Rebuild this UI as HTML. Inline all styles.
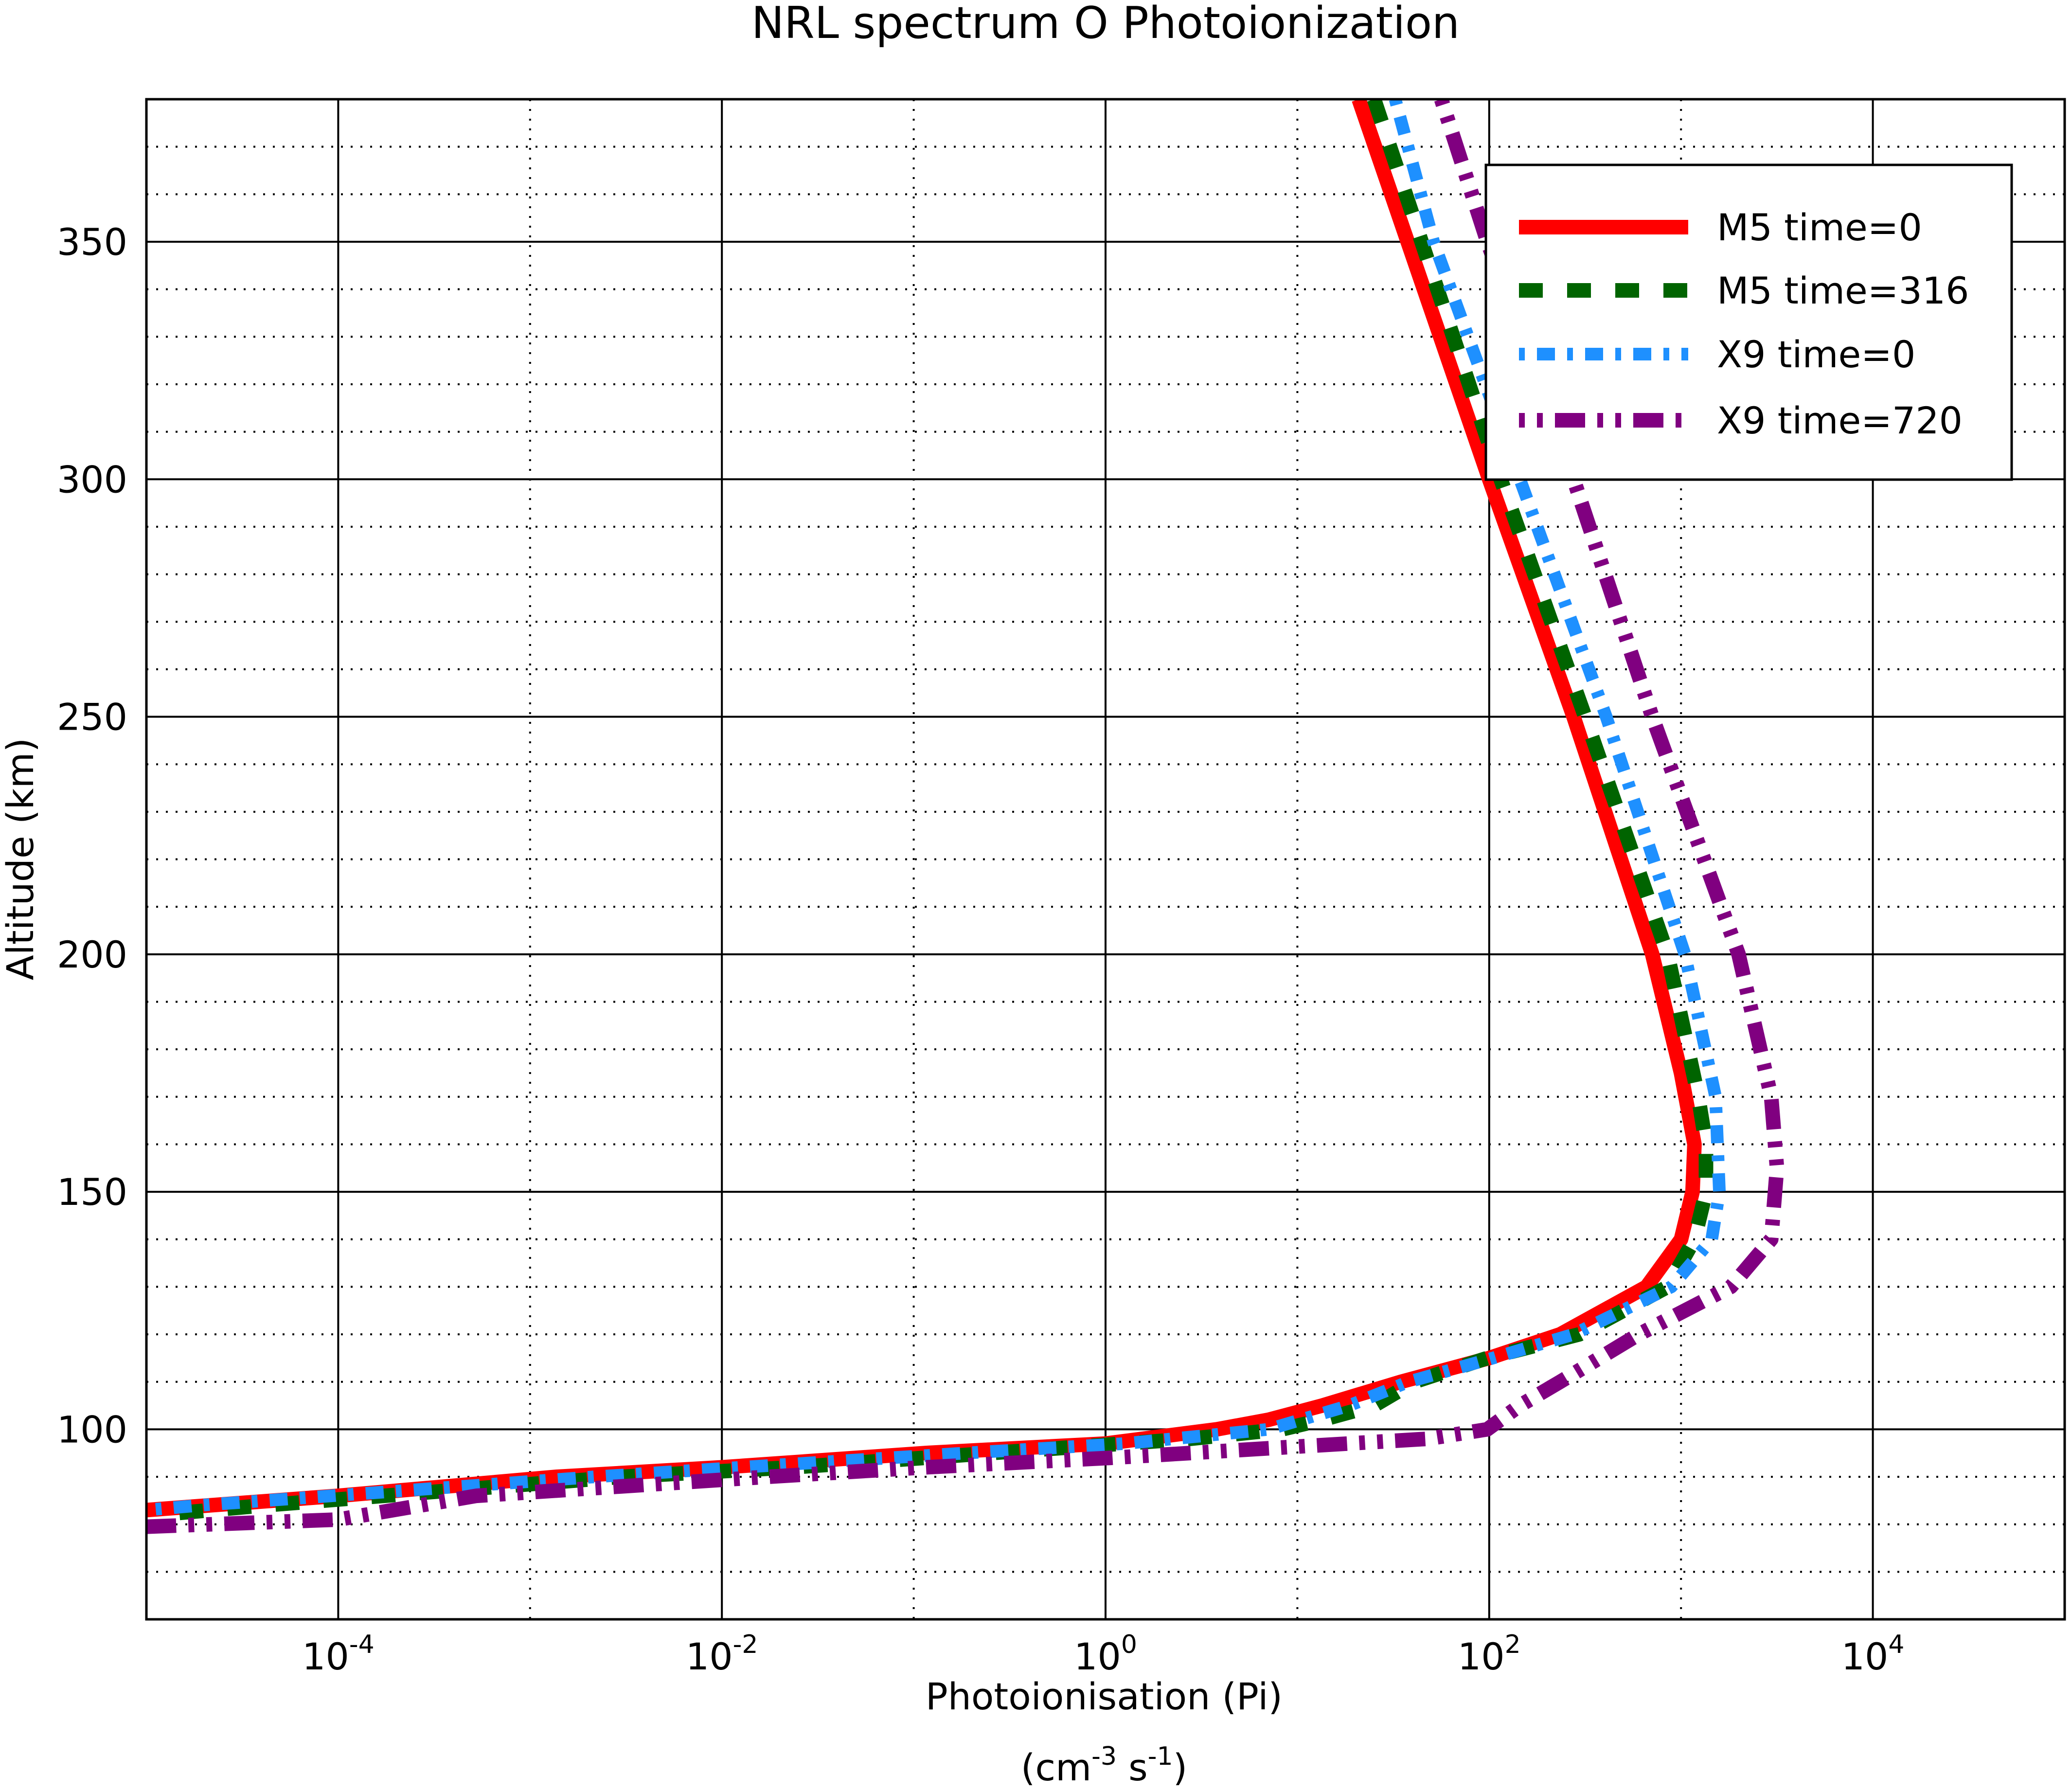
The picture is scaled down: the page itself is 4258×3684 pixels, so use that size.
<!DOCTYPE html>
<html><head><meta charset="utf-8"><style>
html,body{margin:0;padding:0;background:#fff}
svg{display:block}
text{font-family:"DejaVu Sans","Liberation Sans",sans-serif;fill:#000}
</style></head><body>
<svg id="chart" xmlns="http://www.w3.org/2000/svg" width="4258" height="3684" viewBox="0 0 4258 3684">
<text x="2273" y="78" font-size="90" text-anchor="middle">NRL spectrum O Photoionization</text>
<g id="grid"></g>
<g id="series"></g>
<rect x="301" y="204" width="3944" height="3125" fill="none" stroke="#000" stroke-width="5"/>
<g id="ticks"></g>
<text transform="translate(68,1766) rotate(-90)" font-size="76" text-anchor="middle">Altitude (km)</text>
<text x="2270" y="3514" font-size="76" text-anchor="middle">Photoionisation (Pi)</text>
<text x="2270" y="3660" font-size="76" text-anchor="middle">(cm<tspan font-size="52" dy="-32">-3</tspan><tspan dy="32"> s</tspan><tspan font-size="52" dy="-32">-1</tspan><tspan dy="32">)</tspan></text>
<g id="legend"></g>
</svg>
<script>
const xTickExps=[-4,-2,0,2,4];
const yTicks=[100,150,200,250,300,350];
const legendLabels=["M5 time=0","M5 time=316","X9 time=0","X9 time=720"];
const m5t0Alt=[380,300,250,200,175,160,150,140,130,120,115,110,105,102,100,97,95,92,90,86,83];
const m5t0Log=[1.32,2.0,2.44,2.85,3.0,3.07,3.06,3.0,2.82,2.37,2.0,1.54,1.13,0.85,0.58,0,-0.94,-2.0,-2.86,-4,-5];
const m5t316Alt=[380,300,250,200,170,160,150,140,130,120,115,110,105,102,100,98,96,94,92,90,88,86,84,82];
const m5t316Log=[1.40,2.06,2.5,2.93,3.09,3.13,3.13,3.07,2.93,2.47,1.99,1.61,1.40,1.13,0.92,0.44,-0.25,-0.94,-1.63,-2.52,-3.14,-3.76,-4.38,-4.94];
const x9t0Alt=[380,350,300,250,200,170,150,140,130,120,115,110,105,100,97,95,92,90,87,84,83];
const x9t0Log=[1.51,1.71,2.16,2.61,3.02,3.18,3.2,3.16,2.95,2.44,2.02,1.58,1.27,0.85,0.1,-0.73,-1.9,-2.66,-3.69,-4.72,-5];
const x9t720Alt=[380,350,300,250,200,170,155,140,130,120,110,105,100,98,96,94,92,90,88,86,81,79.5];
const x9t720Log=[1.75,1.99,2.44,2.85,3.3,3.47,3.5,3.47,3.26,2.78,2.37,2.16,1.99,1.68,0.85,0.03,-0.94,-1.76,-2.52,-3.28,-4,-5];

const L=301,R=4245,T=204,B=3329,XMIN=-5,XMAX=5,YMIN=60,YMAX=380;
const xs=v=>L+(v-XMIN)/(XMAX-XMIN)*(R-L);
const ys=v=>B-(v-YMIN)/(YMAX-YMIN)*(B-T);
const NS="http://www.w3.org/2000/svg";
function mk(tag,attrs,parent){const e=document.createElementNS(NS,tag);for(const k in attrs)e.setAttribute(k,attrs[k]);parent.appendChild(e);return e;}
const grid=document.getElementById('grid'),ticks=document.getElementById('ticks');
for(let e=-4;e<=4;e++){
  const ln=mk('line',{x1:xs(e),x2:xs(e),y1:T,y2:B,stroke:'#000','stroke-width':4,'stroke-dasharray':e%2===0?'none':'4 16'},grid);
  
  
}
for(let a=70;a<=370;a+=10){
  const ln=mk('line',{x1:L,x2:R,y1:ys(a),y2:ys(a),stroke:'#000','stroke-width':4,'stroke-dasharray':a%50===0?'none':'4 16'},grid);
  
  
}
xTickExps.forEach(e=>{
  const t=mk('text',{x:xs(e),y:3432,'font-size':76,'text-anchor':'middle'},ticks);
  
  
  const a=document.createElementNS(NS,'tspan');a.textContent='10';t.appendChild(a);
  const b=document.createElementNS(NS,'tspan');b.setAttribute('font-size','52');b.setAttribute('dy','-34');b.textContent=String(e);t.appendChild(b);
});
yTicks.forEach(v=>{
  const t=mk('text',{x:262,y:ys(v)+27,'font-size':76,'text-anchor':'end'},ticks);
  
  
  t.textContent=v;
});
const styles=[
  {c:'#ff0000',w:30,d:'none'},
  {c:'#006400',w:30,d:'49 50'},
  {c:'#1e90ff',w:26,d:'12 25 37 25'},
  {c:'#800080',w:30,d:'12 25 12 25 62 25'}
];
const data=[[m5t0Alt,m5t0Log],[m5t316Alt,m5t316Log],[x9t0Alt,x9t0Log],[x9t720Alt,x9t720Log]];
const sg=document.getElementById('series');
const clip=mk('clipPath',{id:'pc'},document.getElementById('chart'));
mk('rect',{x:L,y:T,width:R-L,height:B-T},clip);
sg.setAttribute('clip-path','url(#pc)');
const names=['series-m5-time0','series-m5-time316','series-x9-time0','series-x9-time720'];
data.forEach((d,i)=>{
  const pts=d[0].map((a,j)=>xs(d[1][j]).toFixed(1)+','+ys(a).toFixed(1)).join(' ');
  const p=mk('polyline',{points:pts,fill:'none',stroke:styles[i].c,'stroke-width':styles[i].w,'stroke-dasharray':styles[i].d,'stroke-linejoin':'round'},sg);
  
  
});
const lg=document.getElementById('legend');
const box=mk('rect',{x:3055,y:339,width:1081,height:647,fill:'#fff',stroke:'#000','stroke-width':5},lg);


const rows=[467,597,728,864];
legendLabels.forEach((lab,i)=>{
  const l=mk('line',{x1:3123,x2:3471,y1:rows[i],y2:rows[i],stroke:styles[i].c,'stroke-width':styles[i].w,'stroke-dasharray':styles[i].d},lg);
  
  
  const t=mk('text',{x:3530,y:rows[i]+27,'font-size':76},lg);
  
  
  t.textContent=lab;
});
</script>
</body></html>
